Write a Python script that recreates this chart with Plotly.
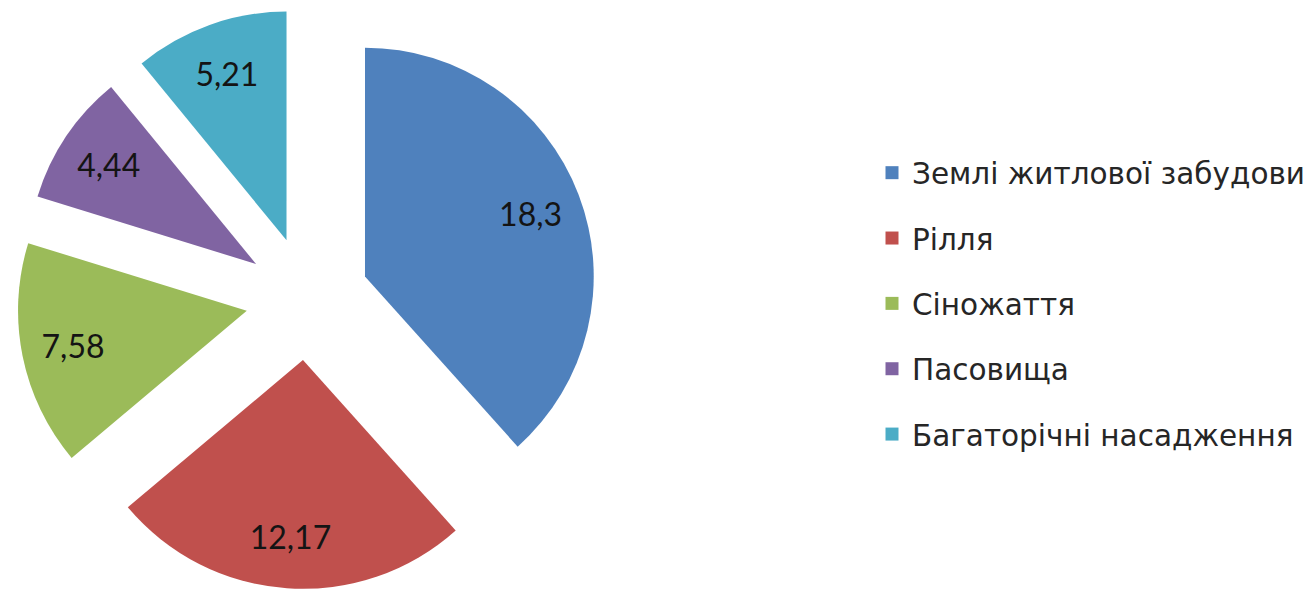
import plotly.graph_objects as go

categories = ["Землі житлової забудови", "Рілля", "Сіножаття", "Пасовища", "Багаторічні насадження"]
values = [18.3, 12.17, 7.58, 4.44, 5.21]
colors = ["#4F81BD", "#C0504D", "#9BBB59", "#8064A2", "#4BACC6"]

# the page is shown with an 8px body margin, so the figure is sized to fit the window
W, H = 1303, 581
PULL = 0.27
DOMAIN_X = [0, 600 / W]

fig = go.Figure()
# coloured slices
fig.add_trace(go.Pie(
    labels=categories,
    values=values,
    marker=dict(colors=colors, line=dict(width=0)),
    sort=False,
    direction="clockwise",
    rotation=0,
    pull=[PULL] * len(values),
    textinfo="none",
    domain=dict(x=DOMAIN_X, y=[0, 1]),
    showlegend=False,
    hoverinfo="label+value",
))
# transparent ring on top that carries the data labels towards the outer edge
fig.add_trace(go.Pie(
    labels=categories,
    values=values,
    hole=0.55,
    marker=dict(colors=["rgba(0,0,0,0)"] * len(values), line=dict(width=0)),
    sort=False,
    direction="clockwise",
    rotation=0,
    pull=[PULL] * len(values),
    texttemplate="%{value:.2~f}",
    textposition="inside",
    insidetextorientation="horizontal",
    textfont=dict(family="Lato", size=32, color="#141414"),
    domain=dict(x=DOMAIN_X, y=[0, 1]),
    showlegend=False,
    hoverinfo="skip",
))

# legend entries (square markers) with generous spacing
for i, (name, col) in enumerate(zip(categories, colors)):
    fig.add_trace(go.Scatter(
        x=[None], y=[None], mode="markers", name=name,
        marker=dict(symbol="square", size=13, color=col),
        legendgroup=f"g{i}", showlegend=True, hoverinfo="skip",
    ))

fig.update_layout(
    width=W, height=H,
    margin=dict(l=0, r=0, t=0, b=0),
    paper_bgcolor="white", plot_bgcolor="white",
    separators=", ",
    uniformtext=dict(minsize=32, mode="show"),
    xaxis=dict(visible=False), yaxis=dict(visible=False),
    legend=dict(
        x=866 / W, xanchor="left", y=1 - 295.5 / H, yanchor="middle",
        font=dict(family="DejaVu Sans", size=29.5, color="#262626"),
        traceorder="grouped", tracegroupgap=24,
        itemclick=False, itemdoubleclick=False,
    ),
)

fig.write_html("out.html")
